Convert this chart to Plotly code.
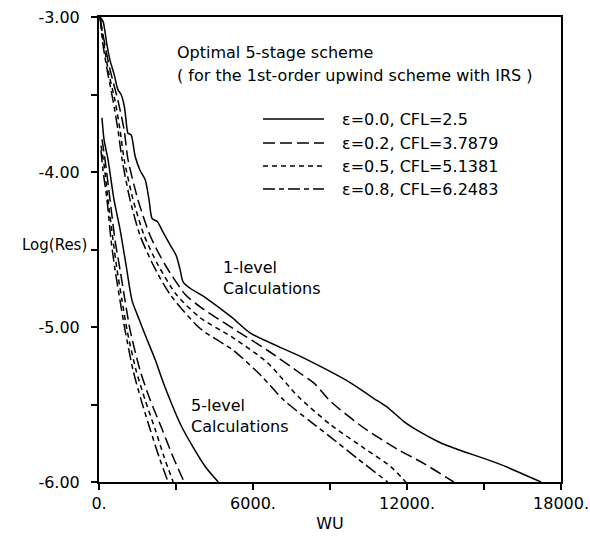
import plotly.graph_objects as go

# ---------------- data ----------------
# 1-level calculations
wu_1lv_e00 = [40,160,310,430,590,740,860,980,1050,1130,1250,1410,1600,1800,1950,2070,2270,2500,2770,3010,3160,3280,3550,4140,5190,5900,7850,9800,10700,11250,11880,12540,13220,13980,15540,17220]
res_1lv_e00 = [-3.00,-3.03,-3.18,-3.28,-3.37,-3.47,-3.50,-3.57,-3.66,-3.75,-3.76,-3.90,-3.99,-4.05,-4.18,-4.30,-4.32,-4.39,-4.47,-4.54,-4.63,-4.71,-4.75,-4.81,-4.94,-5.04,-5.19,-5.36,-5.46,-5.52,-5.61,-5.68,-5.74,-5.79,-5.88,-6.00]

wu_1lv_e02 = [40,195,430,740,980,1130,1520,1990,2580,3360,3940,5230,6560,7850,8430,9020,10310,11640,12650,13820]
res_1lv_e02 = [-3.00,-3.15,-3.34,-3.54,-3.73,-3.92,-4.18,-4.41,-4.60,-4.79,-4.87,-5.01,-5.15,-5.30,-5.37,-5.48,-5.65,-5.79,-5.88,-6.00]

wu_1lv_e05 = [40,195,390,625,820,980,1330,1760,2300,3010,3940,5230,6560,7770,9020,10310,11360,11950]
res_1lv_e05 = [-3.00,-3.18,-3.37,-3.54,-3.73,-3.92,-4.18,-4.41,-4.60,-4.79,-4.94,-5.07,-5.23,-5.45,-5.63,-5.78,-5.90,-6.00]

wu_1lv_e08 = [40,156,350,547,740,900,1210,1600,2110,2770,3940,5230,6290,7190,8240,9020,10080,11250]
res_1lv_e08 = [-3.00,-3.18,-3.37,-3.54,-3.73,-3.92,-4.18,-4.41,-4.60,-4.79,-5.01,-5.15,-5.31,-5.47,-5.61,-5.71,-5.85,-6.00]

# 5-level calculations
wu_5lv_e00 = [117,195,351,586,820,1054,1289,1562,1796,2187,2577,3241,4139,4647]
res_5lv_e00 = [-3.65,-3.79,-3.92,-4.18,-4.37,-4.60,-4.83,-4.95,-5.05,-5.21,-5.39,-5.65,-5.90,-6.00]

wu_5lv_e02 = [117,234,430,625,820,1015,1211,1601,1992,2460,2890,3319]
res_5lv_e02 = [-3.79,-3.92,-4.18,-4.44,-4.63,-4.83,-5.02,-5.28,-5.47,-5.66,-5.84,-6.00]

wu_5lv_e05 = [78,195,351,547,703,898,1093,1445,1796,2187,2538,2890]
res_5lv_e05 = [-3.83,-3.95,-4.18,-4.44,-4.63,-4.83,-5.02,-5.28,-5.47,-5.66,-5.84,-6.00]

wu_5lv_e08 = [78,156,312,469,625,820,1015,1328,1640,1992,2343,2695]
res_5lv_e08 = [-3.86,-3.99,-4.18,-4.44,-4.63,-4.83,-5.02,-5.28,-5.47,-5.66,-5.84,-6.00]

legend_labels = ["ε=0.0, CFL=2.5", "ε=0.2, CFL=3.7879", "ε=0.5, CFL=5.1381", "ε=0.8, CFL=6.2483"]
x_tickvals = [0, 3000, 6000, 9000, 12000, 15000, 18000]
x_ticktext = ["0.", "", "6000.", "", "12000.", "", "18000."]
y_tickvals = [-6, -5.5, -5, -4.5, -4, -3.5, -3]
y_ticktext = ["-6.00", "", "-5.00", "", "-4.00", "", "-3.00"]

# ---------------- styles ----------------
dashes = ["solid", "12px,5px", "5px,4px", "12px,4px,5px,4px"]
FONT = "DejaVu Sans, Liberation Sans, Arial, sans-serif"
FS = 16

series = [
    (wu_1lv_e00, res_1lv_e00, 0), (wu_1lv_e02, res_1lv_e02, 1),
    (wu_1lv_e05, res_1lv_e05, 2), (wu_1lv_e08, res_1lv_e08, 3),
    (wu_5lv_e00, res_5lv_e00, 0), (wu_5lv_e02, res_5lv_e02, 1),
    (wu_5lv_e05, res_5lv_e05, 2), (wu_5lv_e08, res_5lv_e08, 3),
]

fig = go.Figure()
for xs, ys, k in series:
    fig.add_trace(go.Scatter(
        x=xs, y=ys, mode="lines", showlegend=False, cliponaxis=True,
        line=dict(color="black", width=1.5, dash=dashes[k], shape="spline", smoothing=0.7),
    ))

# Custom legend (samples drawn in paper coordinates)
W, H = 590, 538
L, R, T, B = 99, 29, 17, 56
pw, ph = W - L - R, H - T - B
def px(xp):
    return (xp - L) / pw
def py(yp):
    return (H - B - yp) / ph

shapes = []
annotations = []
legend_rows = [119, 143, 166, 189]
for k, (lab, yr) in enumerate(zip(legend_labels, legend_rows)):
    shapes.append(dict(type="line", xref="paper", yref="paper",
                       x0=px(263), x1=px(324), y0=py(yr), y1=py(yr),
                       line=dict(color="black", width=1.5, dash=dashes[k])))
    annotations.append(dict(xref="paper", yref="paper", x=px(340), y=py(yr),
                            text=lab, showarrow=False, xanchor="left", yanchor="middle",
                            font=dict(size=FS, color="black", family=FONT)))

annotations += [
    dict(xref="paper", yref="paper", x=px(175), y=py(52), text="Optimal 5-stage scheme",
         showarrow=False, xanchor="left", yanchor="middle", font=dict(size=FS, color="black", family=FONT)),
    dict(xref="paper", yref="paper", x=px(175), y=py(76), text="( for the 1st-order upwind scheme with IRS )",
         showarrow=False, xanchor="left", yanchor="middle", font=dict(size=FS, color="black", family=FONT)),
    dict(xref="paper", yref="paper", x=px(221), y=py(278), text="1-level<br>Calculations", align="left",
         showarrow=False, xanchor="left", yanchor="middle", font=dict(size=FS, color="black", family=FONT)),
    dict(xref="paper", yref="paper", x=px(189), y=py(416), text="5-level<br>Calculations", align="left",
         showarrow=False, xanchor="left", yanchor="middle", font=dict(size=FS, color="black", family=FONT)),
    dict(xref="paper", yref="paper", x=px(20), y=py(245), text="Log(Res)",
         showarrow=False, xanchor="left", yanchor="middle", font=dict(size=15, color="black", family=FONT)),
]

fig.update_layout(
    width=W, height=H,
    margin=dict(l=L, r=R, t=T, b=B, pad=0),
    paper_bgcolor="white", plot_bgcolor="white",
    font=dict(family=FONT, size=FS, color="black"),
    shapes=shapes, annotations=annotations,
    showlegend=False,
)
fig.update_xaxes(
    range=[0, 18000], tickmode="array", tickvals=x_tickvals, ticktext=x_ticktext,
    ticks="outside", ticklen=6, tickwidth=1.5, tickcolor="black",
    showline=True, linecolor="black", linewidth=2, mirror=True,
    showgrid=False, zeroline=False, automargin=False,
    title=dict(text="WU", standoff=6, font=dict(size=FS, family=FONT)),
)
fig.update_yaxes(
    range=[-6, -3], tickmode="array", tickvals=y_tickvals, ticktext=y_ticktext,
    ticks="outside", ticklen=6, tickwidth=1.5, tickcolor="black", ticklabelstandoff=8,
    showline=True, linecolor="black", linewidth=2, mirror=True,
    showgrid=False, zeroline=False, automargin=False,
)

fig.write_html("out.html", config={"displayModeBar": False},
               post_script="document.body.style.margin='0px';document.body.style.padding='0px';")
